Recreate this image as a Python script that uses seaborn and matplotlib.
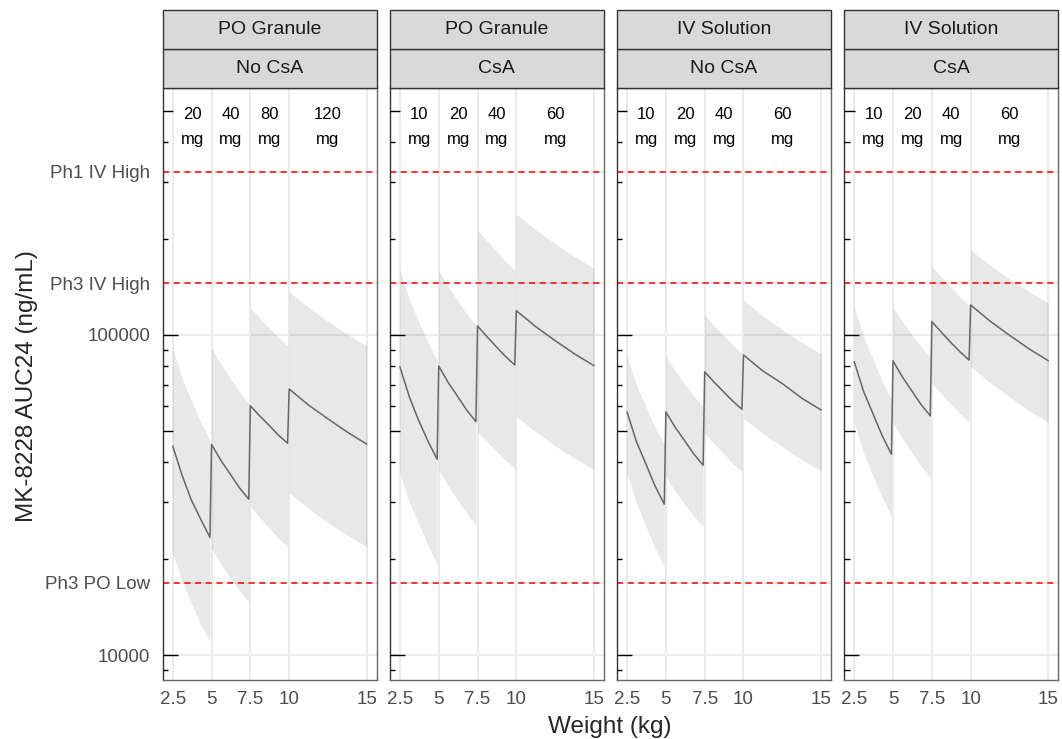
"""
MK-8228 AUC24 vs body weight by formulation / CsA co-administration.
Median line with shaded prediction band, dose bands, target exposure lines.
"""

import numpy as np
import pandas as pd
import matplotlib.pyplot as plt
import seaborn as sns
from matplotlib.patches import Rectangle


# ── Data ──────────────────────────────────────────────────────────────────────

WEIGHT = [2.5, 3.1, 3.7, 4.3, 4.9,
          5.0, 5.6, 6.2, 6.8, 7.4,
          7.5, 8.1, 8.7, 9.3, 9.9,
          10.0, 11.25, 12.5, 13.75, 15.0]
SEGMENT = [0] * 5 + [1] * 5 + [2] * 5 + [3] * 5

FORMULATION = ["PO Granule", "PO Granule", "IV Solution", "IV Solution"]
CSA         = ["No CsA", "CsA", "No CsA", "CsA"]

DOSES = [
    [20, 40, 80, 120],
    [10, 20, 40, 60],
    [10, 20, 40, 60],
    [10, 20, 40, 60],
]

MEDIAN = [
    [45000, 36500, 30500, 26600, 23300, 45500, 40600, 36800, 33300, 30700,
     60100, 55900, 52300, 48700, 45900, 67800, 60400, 54700, 49700, 45600],
    [79600, 64300, 54200, 46700, 40900, 80000, 71200, 64500, 58300, 53600,
     106700, 98900, 92000, 85700, 80600, 119100, 106200, 96000, 87300, 80200],
    [57500, 46500, 39700, 33800, 29600, 57500, 51500, 46800, 42500, 39200,
     76700, 71300, 66600, 62200, 58600, 86600, 77200, 70500, 63500, 58300],
    [82600, 66700, 56900, 48500, 42400, 83000, 74000, 67000, 60700, 55900,
     110100, 102200, 95000, 88700, 83500, 124100, 110500, 99800, 90600, 83100],
]
LOWER = [
    [20800, 17000, 14500, 12500, 11000, 21500, 19300, 17400, 15900, 14700,
     29100, 26900, 25000, 23200, 21800, 32100, 28700, 25900, 23700, 21800],
    [37000, 30000, 25800, 22000, 19300, 37900, 33800, 30600, 27700, 25500,
     49900, 46500, 43400, 40600, 38300, 55600, 49800, 45000, 41200, 38000],
    [37000, 29800, 25300, 21600, 18900, 36100, 32500, 29600, 27200, 25200,
     49300, 45800, 42700, 39700, 37400, 54900, 49200, 44800, 40800, 37600],
    [53000, 42800, 36400, 31100, 27200, 53200, 47500, 43000, 39000, 35900,
     70600, 65500, 61000, 56900, 53600, 79600, 70900, 64000, 58100, 53300],
]
UPPER = [
    [90800, 73400, 62300, 53400, 46800, 90800, 81000, 73300, 66500, 61200,
     121700, 113000, 105300, 98200, 92400, 136600, 122000, 110300, 100500, 92400],
    [159600, 129700, 110300, 95100, 83500, 159000, 141900, 128500, 116600, 107400,
     212900, 197000, 183200, 170000, 159600, 238800, 213200, 193000, 175800, 161600],
    [86000, 70000, 59900, 51500, 45300, 86000, 77400, 70300, 64500, 59700,
     115500, 107200, 99800, 93200, 87700, 128500, 114800, 104000, 94800, 87200],
    [122500, 98900, 84200, 71700, 62700, 122500, 110200, 100300, 91800, 85000,
     163500, 151800, 141300, 131900, 124100, 184400, 165200, 149800, 136900, 126200],
]

SEG_START = [2.5, 5.0, 7.5, 10.0]
SEG_END   = [5.0, 7.5, 10.0, 15.0]

TARGET_NAMES  = ["Ph3 PO Low", "Ph3 IV High", "Ph1 IV High"]
TARGET_VALUES = [16800, 145000, 323000]

Y_BREAKS = [10000, 100000]
X_TICKS  = [2.5, 5, 7.5, 10, 15]
X_LABELS = ["2.5", "5", "7.5", "10", "15"]


# ── Build long frame ───────────────────────────────────────────────────────────

rows = []
for p in range(4):
    for i, w in enumerate(WEIGHT):
        rows.append({
            "panel": p, "weight": w, "seg": SEGMENT[i],
            "median": MEDIAN[p][i], "lo": LOWER[p][i], "hi": UPPER[p][i],
        })
df = pd.DataFrame(rows)


# ── Style ──────────────────────────────────────────────────────────────────────

sns.set_style("white")
plt.rcParams["font.family"] = ["Liberation Sans", "DejaVu Sans"]

TICK_COL   = "#4D4D4D"
GRID_COL   = "#EBEBEB"
STRIP_FILL = "#D9D9D9"
BORDER     = "#666666"

fig, axes = plt.subplots(1, 4, figsize=(10.62, 7.39), dpi=100, sharey=True)
fig.subplots_adjust(left=163 / 1062, right=1058 / 1062,
                    bottom=1 - 680 / 739, top=1 - 88 / 739, wspace=0.064)

ytick_vals = [Y_BREAKS[0], TARGET_VALUES[0], Y_BREAKS[1], TARGET_VALUES[1], TARGET_VALUES[2]]
ytick_labs = [str(Y_BREAKS[0]), TARGET_NAMES[0], str(Y_BREAKS[1]), TARGET_NAMES[1], TARGET_NAMES[2]]

# log tick positions (annotation_logticks style)
log_long  = [10000, 100000]
log_mid   = [50000, 500000]
log_short = [9000] + [k * 10000 for k in (2, 3, 4, 6, 7, 8, 9)] + [k * 100000 for k in (2, 3, 4)]

for p, ax in enumerate(axes):
    d = df[df["panel"] == p]
    ax.set_yscale("log")
    ax.set_xlim(1.875, 15.625)
    ax.set_ylim(8360, 591000)

    # ribbons per dose band
    for s in range(4):
        ds = d[d["seg"] == s]
        ax.fill_between(ds["weight"], ds["lo"], ds["hi"],
                        color="black", alpha=0.09, lw=0, zorder=1)

    sns.lineplot(data=d, x="weight", y="median", color="#666666",
                 lw=1.1, ax=ax, zorder=3)

    for v in TARGET_VALUES:
        ax.axhline(v, color="red", lw=1.1, ls=(0, (4, 3)), zorder=2)

    # dose labels
    for s, dose in enumerate(DOSES[p]):
        xm = (SEG_START[s] + SEG_END[s]) / 2
        ax.text(xm, 472000, str(dose), ha="center", va="baseline", fontsize=12, color="black")
        ax.text(xm, 395000, "mg", ha="center", va="baseline", fontsize=12, color="black")

    # log ticks inside the panel
    ytr = ax.get_yaxis_transform()
    for vals, ln in [(log_long, 0.070), (log_mid, 0.047), (log_short, 0.024)]:
        for v in vals:
            ax.plot([0, ln], [v, v], transform=ytr, color="black", lw=1.0,
                    solid_capstyle="butt", clip_on=False, zorder=4)

    ax.set_xticks(X_TICKS, labels=X_LABELS)
    ax.set_yticks(ytick_vals, labels=ytick_labs)
    ax.yaxis.set_minor_locator(plt.NullLocator())
    ax.grid(True, which="major", color=GRID_COL, lw=1.5)
    ax.set_axisbelow(True)
    ax.set_xlabel("")
    ax.set_ylabel("")

    ax.tick_params(axis="x", length=4, width=1, color="#333333",
                   labelsize=13.5, labelcolor=TICK_COL, pad=4)
    ax.tick_params(axis="y", length=4.3, width=1, color="#333333",
                   labelsize=13.5, labelcolor=TICK_COL, pad=5)
    if p > 0:
        ax.tick_params(axis="y", left=False, labelleft=False)

    for side, sp in ax.spines.items():
        sp.set_visible(True)
        sp.set_color("#333333" if side == "left" else BORDER)
        sp.set_linewidth(1.0)

    # two-row strips
    h = 39 / 592
    for k, lab in enumerate([CSA[p], FORMULATION[p]]):
        y0 = 1 + k * h
        ax.add_patch(Rectangle((0, y0), 1, h, transform=ax.transAxes,
                               facecolor=STRIP_FILL, edgecolor="#333333",
                               lw=1.0, clip_on=False, zorder=5))
        ax.text(0.5, y0 + h / 2, lab, transform=ax.transAxes, ha="center",
                va="center", fontsize=14, color="#1A1A1A", zorder=6)

fig.text(610 / 1062, 1 - 716 / 739, "Weight (kg)", ha="center", va="top", fontsize=17.5)
fig.text(27 / 1062, 1 - 386 / 739, "MK-8228 AUC24 (ng/mL)", ha="center",
         va="center", rotation=90, fontsize=17.5)

fig.savefig("out.png", dpi=100)
plt.close(fig)
